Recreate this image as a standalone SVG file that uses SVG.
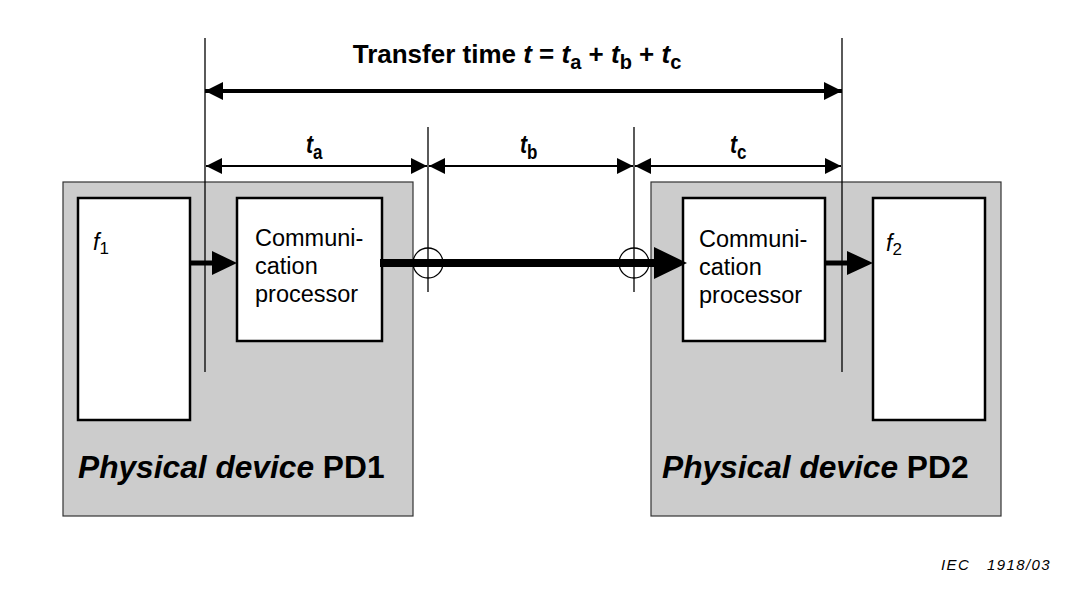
<svg xmlns="http://www.w3.org/2000/svg" width="1067" height="590" viewBox="0 0 1067 590">
<defs>
<style>
.dev{fill:#cccccc;stroke:#333;stroke-width:1.2}
.box{fill:#fff;stroke:#000;stroke-width:2.5}
.vl{stroke:#000;stroke-width:1.3;fill:none}
.dim{stroke:#000;stroke-width:2;fill:none}
.t{font-family:"Liberation Sans",Arial,sans-serif;fill:#000}
.cp{font-size:23.5px}
.b{font-weight:bold}
.i{font-style:italic}
</style>
<marker id="ah" viewBox="0 0 10 10" refX="10" refY="5" markerWidth="18" markerHeight="16" markerUnits="userSpaceOnUse" orient="auto-start-reverse"><path d="M0,0L10,5L0,10z" fill="#000"/></marker>
<marker id="ahb" viewBox="0 0 10 10" refX="10" refY="5" markerWidth="18" markerHeight="22" markerUnits="userSpaceOnUse" orient="auto-start-reverse"><path d="M0,0L10,5L0,10z" fill="#000"/></marker>
</defs>
<g id="pd1">
<rect class="dev" x="63" y="182" width="350" height="334"/>
<text class="t b" x="78" y="478" font-size="31.7"><tspan class="i">Physical device</tspan> PD1</text>
</g>
<g id="pd2">
<rect class="dev" x="651" y="182" width="350" height="334"/>
<text class="t b" x="662" y="478" font-size="31.7"><tspan class="i">Physical device</tspan> PD2</text>
</g>
<g id="f1">
<rect class="box" x="78" y="198" width="112" height="222"/>
<text class="t i" x="93" y="250" font-size="23" font-family="Liberation Serif">f<tspan font-family="Liberation Sans" font-style="normal" font-size="17" dy="4">1</tspan></text>
</g>
<g id="cp1">
<rect class="box" x="237" y="198" width="145" height="143"/>
<text class="t cp" x="255" y="246">Communi-</text>
<text class="t cp" x="255" y="274">cation</text>
<text class="t cp" x="255" y="302">processor</text>
</g>
<g id="cp2">
<rect class="box" x="683" y="198" width="142" height="143"/>
<text class="t cp" x="699" y="247">Communi-</text>
<text class="t cp" x="699" y="275">cation</text>
<text class="t cp" x="699" y="303">processor</text>
</g>
<g id="f2">
<rect class="box" x="873" y="198" width="112" height="222"/>
<text class="t i" x="886" y="251" font-size="23" font-family="Liberation Serif">f<tspan font-family="Liberation Sans" font-style="normal" font-size="17" dy="4">2</tspan></text>
</g>
<g id="connectors">
<line class="vl" x1="205" y1="38" x2="205" y2="372"/>
<line class="vl" x1="842" y1="38" x2="842" y2="372"/>
<line class="vl" x1="428" y1="127" x2="428" y2="292"/>
<line class="vl" x1="634" y1="127" x2="634" y2="292"/>
<line class="dim" x1="205" y1="91" x2="842" y2="91" marker-start="url(#ahb)" marker-end="url(#ahb)" style="stroke-width:4"/>
<line class="dim" x1="206" y1="166" x2="427" y2="166" marker-start="url(#ah)" marker-end="url(#ah)"/>
<line class="dim" x1="429" y1="166" x2="633" y2="166" marker-start="url(#ah)" marker-end="url(#ah)"/>
<line class="dim" x1="635" y1="166" x2="841" y2="166" marker-start="url(#ah)" marker-end="url(#ah)"/>
<line x1="380" y1="263" x2="660" y2="263" stroke="#000" stroke-width="8"/>
<path d="M654,247L687,263L654,279z" fill="#000"/>
<circle cx="428" cy="263" r="15" fill="none" stroke="#000" stroke-width="1.3"/>
<circle cx="634" cy="263" r="15" fill="none" stroke="#000" stroke-width="1.3"/>
<line x1="190" y1="263" x2="215" y2="263" stroke="#000" stroke-width="5"/>
<path d="M212,251L237,263L212,275z" fill="#000"/>
<line x1="825" y1="263" x2="850" y2="263" stroke="#000" stroke-width="5"/>
<path d="M847,251L873,263L847,275z" fill="#000"/>
</g>
<g id="labels">
<text class="t b" x="517" y="63" font-size="26" text-anchor="middle">Transfer time <tspan class="i">t</tspan> = <tspan class="i">t</tspan><tspan font-size="20" dy="6">a</tspan><tspan dy="-6"> + </tspan><tspan class="i">t</tspan><tspan font-size="20" dy="6">b</tspan><tspan dy="-6"> + </tspan><tspan class="i">t</tspan><tspan font-size="20" dy="6">c</tspan></text>
<text class="t b" transform="translate(306,153) scale(0.85,1)" font-size="25"><tspan class="i">t</tspan><tspan font-size="20" dy="6">a</tspan></text>
<text class="t b" transform="translate(520,153) scale(0.85,1)" font-size="25"><tspan class="i">t</tspan><tspan font-size="20" dy="6">b</tspan></text>
<text class="t b" transform="translate(730,153) scale(0.85,1)" font-size="25"><tspan class="i">t</tspan><tspan font-size="20" dy="6">c</tspan></text>
<text class="t i" x="941" y="570" font-size="15" letter-spacing="1.4" xml:space="preserve">IEC   1918/03</text>
</g>
</svg>
